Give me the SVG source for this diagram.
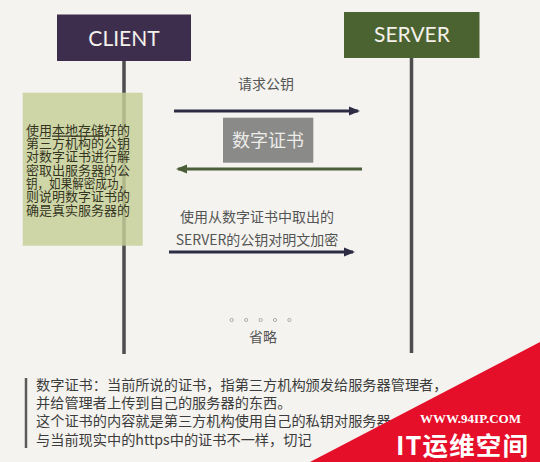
<svg xmlns="http://www.w3.org/2000/svg" width="540" height="462" viewBox="0 0 540 462">
<defs>
<style>
.cjk{font-family:"Noto Sans CJK SC","Noto Sans",sans-serif;}
.life{stroke:#4d4d4d;stroke-width:3.5;fill:none;}
.msg{fill:#555;font-size:14px;text-anchor:middle;}
.note{fill:#3c3c3c;font-size:14.2px;}
.gtext{fill:#35351f;font-size:13px;}
.head{font-family:Lato,"Open Sans",sans-serif;font-size:21px;fill:#f4f1ea;text-anchor:middle;}
</style>
<marker id="ahNavy" markerUnits="userSpaceOnUse" markerWidth="11" markerHeight="10" refX="9" refY="5" orient="auto">
<path d="M0,0.5 L11,5 L0,9.5 z" fill="#2e2c45"/>
</marker>
<marker id="ahGreen" markerUnits="userSpaceOnUse" markerWidth="11" markerHeight="10" refX="9" refY="5" orient="auto">
<path d="M0,0.5 L11,5 L0,9.5 z" fill="#4b5e38"/>
</marker>
</defs>
<rect x="0" y="0" width="540" height="462" fill="#f4f3ef"/>

<g id="lifelines">
<line class="life" x1="124" y1="60" x2="124" y2="354"/>
<line class="life" x1="411.5" y1="57" x2="411.5" y2="353"/>
</g>

<g id="client">
<rect x="57" y="14.5" width="134" height="46.5" fill="#3e2e4d"/>
<text class="head" x="124" y="45.5">CLIENT</text>
</g>

<g id="server">
<rect x="344" y="12" width="135.5" height="46" fill="#4a6330"/>
<text class="head" x="412" y="42">SERVER</text>
</g>

<g id="client-note">
<rect x="22.7" y="92.7" width="120" height="153" fill="#c6cf98" fill-opacity="0.82"/>
<text class="cjk gtext" x="26" y="134.5"><tspan x="26" y="134.5">使用<tspan text-decoration="underline">本地存储</tspan>好的</tspan><tspan x="26" y="147.8">第三方机构的公钥</tspan><tspan x="26" y="161.2">对数字证书进行解</tspan><tspan x="26" y="174.5">密取出服务器的公</tspan><tspan x="26" y="187.9" textLength="104" lengthAdjust="spacingAndGlyphs">钥，如果解密成功，</tspan><tspan x="26" y="201.2">则说明数字证书的</tspan><tspan x="26" y="214.6">确是真实服务器的</tspan></text>
</g>

<g id="certificate">
<rect x="223" y="117.7" width="90.3" height="45" fill="#8a8a88"/>
<text class="cjk" x="268" y="146.5" font-size="18" fill="#ececea" text-anchor="middle">数字证书</text>
</g>

<g id="connectors">
<line x1="174" y1="111" x2="358" y2="111" stroke="#2e2c45" stroke-width="3" marker-end="url(#ahNavy)"/>
<line x1="362" y1="169" x2="178" y2="169" stroke="#4b5e38" stroke-width="3" marker-end="url(#ahGreen)"/>
<line x1="169" y1="252" x2="353" y2="252" stroke="#2e2c45" stroke-width="3" marker-end="url(#ahNavy)"/>
</g>

<g id="labels">
<text class="cjk msg" x="266" y="89">请求公钥</text>
<text class="cjk msg" x="257" y="222" font-size="14.3">使用从数字证书中取出的</text>
<text class="cjk msg" x="257" y="245" font-size="14.3">SERVER的公钥对明文加密</text>
<g fill="none" stroke="#9a9a9a" stroke-width="0.8">
<circle cx="231.7" cy="320" r="1.6"/>
<circle cx="246.2" cy="320" r="1.6"/>
<circle cx="260.6" cy="320" r="1.6"/>
<circle cx="275" cy="320" r="1.6"/>
<circle cx="289.4" cy="320" r="1.6"/>
</g>
<text class="cjk msg" x="263" y="341.5" font-size="15">省略</text>
</g>

<g id="footnote">
<line x1="26" y1="378" x2="26" y2="448" stroke="#5a5a5a" stroke-width="2.5"/>
<text class="cjk note" x="36" y="390">数字证书：当前所说的证书，指第三方机构颁发给服务器管理者，</text>
<text class="cjk note" x="36" y="407.5">并给管理者上传到自己的服务器的东西。</text>
<text class="cjk note" x="36" y="425.5">这个证书的内容就是第三方机构使用自己的私钥对服务器</text>
<text class="cjk note" x="36" y="445">与当前现实中的https中的证书不一样，切记</text>
</g>

<g id="watermark">
<polygon points="310,462 540,462 540,342" fill="#e60f2a"/>
<text x="470.5" y="422.5" font-family="'Liberation Serif',serif" font-weight="bold" font-size="13" fill="#ffffff" text-anchor="middle">WWW.94IP.COM</text>
<text class="cjk" x="396" y="455" font-weight="bold" font-size="25.5" textLength="132" lengthAdjust="spacing" fill="#ffffff">IT运维空间</text>
</g>
</svg>
